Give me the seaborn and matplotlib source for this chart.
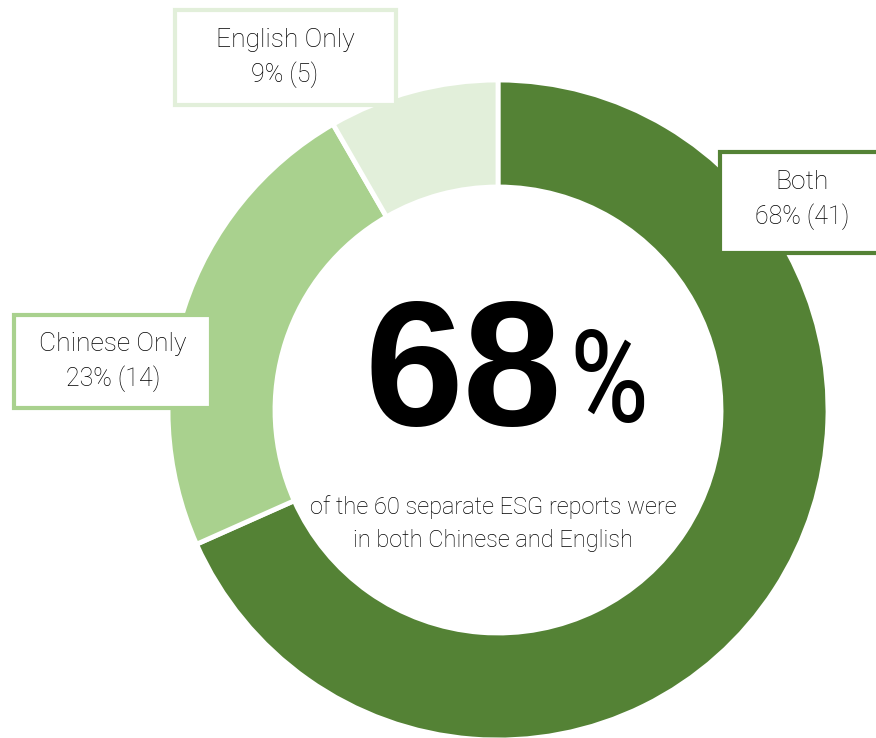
import matplotlib
matplotlib.use("Agg")
import matplotlib.pyplot as plt
import seaborn as sns
from matplotlib.patches import Rectangle

# Report language breakdown
categories = ["Both", "Chinese Only", "English Only"]
counts = [41, 14, 5]
percents = [68, 23, 9]
colors = ["#548235", "#A9D18E", "#E2EFDA"]
headline = "68"
caption = ["of the 60 separate ESG reports were", "in both Chinese and English"]

sns.set_theme(style="white")
plt.rcParams["font.family"] = ["Roboto", "DejaVu Sans"]

W, H = 876, 738
fig = plt.figure(figsize=(W / 100, H / 100), dpi=100)
ax = fig.add_axes([0, 0, 1, 1])


def Y(y):
    # convert a top-down pixel row into the axis' bottom-up coordinate
    return H - y


ax.pie(
    counts,
    colors=colors,
    startangle=90,
    counterclock=False,
    center=(498, Y(410)),
    radius=330,
    wedgeprops=dict(width=107, edgecolor="white", linewidth=3.5),
)
ax.set_xlim(0, W)
ax.set_ylim(0, H)
ax.set_aspect("equal")
ax.axis("off")

# label boxes: (category index, left, top, right, bottom, text centre x, first line y)
boxes = [
    (0, 720, 152, 884, 253, 802, 182),
    (1, 14, 315, 211, 408, 113, 344),
    (2, 175, 10, 396, 105, 285, 40),
]
for idx, x0, y0, x1, y1, tx, ty in boxes:
    ax.add_patch(Rectangle((x0, Y(y1)), x1 - x0, y1 - y0, facecolor="white",
                           edgecolor=colors[idx], linewidth=3, zorder=5))
    ax.text(tx, Y(ty), categories[idx], ha="center", va="center",
            fontsize=19, fontweight="light", color="black", zorder=6)
    ax.text(tx, Y(ty + 35), f"{percents[idx]}% ({counts[idx]})", ha="center",
            va="center", fontsize=18, fontweight="light", color="black", zorder=6)

# headline figure in the donut hole
ax.text(562, Y(425), headline, ha="right", va="baseline", fontsize=128,
        fontweight="bold", family=["Liberation Sans", "DejaVu Sans"], color="black")
ax.text(568, Y(422), "%", ha="left", va="baseline", fontsize=92,
        family=["Roboto Condensed", "Open Sans Condensed", "Liberation Sans Narrow",
                "DejaVu Sans Condensed", "Liberation Sans"],
        fontstretch="condensed", color="black")

for i, line in enumerate(caption):
    ax.text(493, Y(507 + 33 * i), line, ha="center", va="center",
            fontsize=17, fontweight="light", color="black")

fig.savefig("out.png", dpi=100, facecolor="white")
